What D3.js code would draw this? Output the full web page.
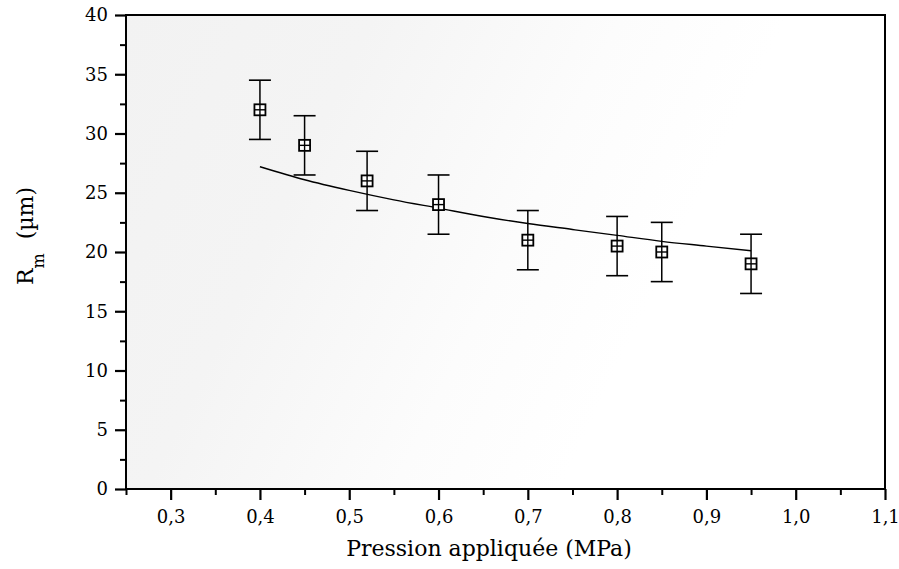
<!DOCTYPE html>
<html><head><meta charset="utf-8">
<script src="https://cdn.jsdelivr.net/npm/d3@7"></script>
<style>body{margin:0;background:#fff}svg{display:block}</style>
</head><body>
<svg id="c" width="899" height="569"></svg>
<script>
// Data
const pressure = [0.40, 0.45, 0.52, 0.60, 0.70, 0.80, 0.85, 0.95];
const radius   = [32.0, 29.0, 26.0, 24.0, 21.0, 20.5, 20.0, 19.0];
const errBar   = [2.5, 2.5, 2.5, 2.5, 2.5, 2.5, 2.5, 2.5];
const fitX = [0.40, 0.45, 0.50, 0.55, 0.60, 0.65, 0.70, 0.75, 0.80, 0.85, 0.90, 0.95];
const fitY = [27.2, 26.1, 25.2, 24.4, 23.7, 23.0, 22.4, 21.9, 21.4, 20.9, 20.5, 20.1];
const xTicks = [0.3, 0.4, 0.5, 0.6, 0.7, 0.8, 0.9, 1.0, 1.1];
const yTicks = [0, 5, 10, 15, 20, 25, 30, 35, 40];

const svg = d3.select("#c");
const L = 126, R = 885, T = 15, B = 489;
const x = d3.scaleLinear().domain([0.25, 1.1]).range([L, R]);
const y = d3.scaleLinear().domain([0, 40]).range([B, T]);
const font = "'DejaVu Serif', 'Liberation Serif', serif";

// light scan-like shading
const defs = svg.append("defs");
const g1 = defs.append("linearGradient").attr("id","shade").attr("x1","0").attr("x2","1").attr("y1","0").attr("y2","0.3");
g1.append("stop").attr("offset","0").attr("stop-color","#f2f2f2");
g1.append("stop").attr("offset","0.3").attr("stop-color","#f4f4f4");
g1.append("stop").attr("offset","0.6").attr("stop-color","#fcfcfc");
g1.append("stop").attr("offset","0.8").attr("stop-color","#ffffff");
svg.append("rect").attr("x", L).attr("y", T).attr("width", R - L).attr("height", B - T).attr("fill", "url(#shade)");

// frame
svg.append("rect").attr("x", L).attr("y", T).attr("width", R - L).attr("height", B - T)
  .attr("fill", "none").attr("stroke", "#000").attr("stroke-width", 2);

// x axis
const xMinor = d3.range(0.25, 1.1001, 0.05).map(v => +v.toFixed(2)).filter(v => !xTicks.some(t => Math.abs(t - v) < 1e-6));
const xa = svg.append("g").attr("transform", `translate(0,${B})`)
  .call(d3.axisBottom(x).tickValues(xTicks).tickSize(11).tickPadding(10)
    .tickFormat(d => d3.format(".1f")(d).replace(".", ",")));
xa.attr("font-size", null).attr("font-family", null);
xa.select(".domain").remove();
xa.selectAll("line").attr("stroke-width", 2.2);
xa.selectAll("text").style("font-family", font).style("font-size", "18px").attr("fill", "#000");
svg.append("g").attr("transform", `translate(0,${B})`)
  .call(d3.axisBottom(x).tickValues(xMinor).tickSize(6).tickFormat(""))
  .call(g => { g.select(".domain").remove(); g.selectAll("line").attr("stroke-width", 2); });

// y axis
const yMinor = d3.range(2.5, 40, 5);
const ya = svg.append("g").attr("transform", `translate(${L},0)`)
  .call(d3.axisLeft(y).tickValues(yTicks).tickSize(11).tickPadding(7));
ya.attr("font-size", null).attr("font-family", null);
ya.select(".domain").remove();
ya.selectAll("line").attr("stroke-width", 2.2);
ya.selectAll("text").style("font-family", font).style("font-size", "18px").attr("fill", "#000");
svg.append("g").attr("transform", `translate(${L},0)`)
  .call(d3.axisLeft(y).tickValues(yMinor).tickSize(6).tickFormat(""))
  .call(g => { g.select(".domain").remove(); g.selectAll("line").attr("stroke-width", 2); });

// axis titles
svg.append("text").attr("x", 489).attr("y", 556).attr("text-anchor", "middle")
  .style("font-family", font).style("font-size", "22px").attr("fill", "#000")
  .text("Pression appliquée (MPa)");
const yl = svg.append("text").attr("transform", "translate(33,236) rotate(-90)")
  .attr("text-anchor", "middle").style("font-family", font).style("font-size", "22px").attr("fill", "#000");
yl.append("tspan").text("R");
yl.append("tspan").attr("dy", 11).style("font-size", "16px").text("m");
yl.append("tspan").attr("dy", -11).text("\u00a0\u00a0(µm)");

// fit curve
svg.append("path").datum(fitX.map((v, i) => [v, fitY[i]]))
  .attr("d", d3.line().x(d => x(d[0])).y(d => y(d[1])).curve(d3.curveMonotoneX))
  .attr("fill", "none").attr("stroke", "#000").attr("stroke-width", 1.4);

// error bars and markers
const pts = pressure.map((p, i) => ({p, r: radius[i], e: errBar[i]}));
const eg = svg.append("g").attr("stroke", "#000");
eg.selectAll(".v").data(pts).join("line")
  .attr("x1", d => x(d.p)).attr("x2", d => x(d.p))
  .attr("y1", d => y(d.r + d.e)).attr("y2", d => y(d.r - d.e)).attr("stroke-width", 1.5);
eg.selectAll(".t").data(pts).join("line")
  .attr("x1", d => x(d.p) - 11).attr("x2", d => x(d.p) + 11)
  .attr("y1", d => y(d.r + d.e)).attr("y2", d => y(d.r + d.e)).attr("stroke-width", 1.6);
eg.selectAll(".b").data(pts).join("line")
  .attr("x1", d => x(d.p) - 11).attr("x2", d => x(d.p) + 11)
  .attr("y1", d => y(d.r - d.e)).attr("y2", d => y(d.r - d.e)).attr("stroke-width", 1.6);
const mk = svg.append("g").selectAll("g").data(pts).join("g")
  .attr("transform", d => `translate(${x(d.p)},${y(d.r)})`);
mk.append("rect").attr("x", -5.5).attr("y", -5.5).attr("width", 11).attr("height", 11)
  .attr("fill", "#fff").attr("stroke", "#000").attr("stroke-width", 1.8);
mk.append("line").attr("x1", -5.5).attr("x2", 5.5).attr("y1", 0).attr("y2", 0).attr("stroke", "#000").attr("stroke-width", 1.4);
mk.append("line").attr("y1", -5.5).attr("y2", 5.5).attr("x1", 0).attr("x2", 0).attr("stroke", "#000").attr("stroke-width", 1.4);
</script>
</body></html>
